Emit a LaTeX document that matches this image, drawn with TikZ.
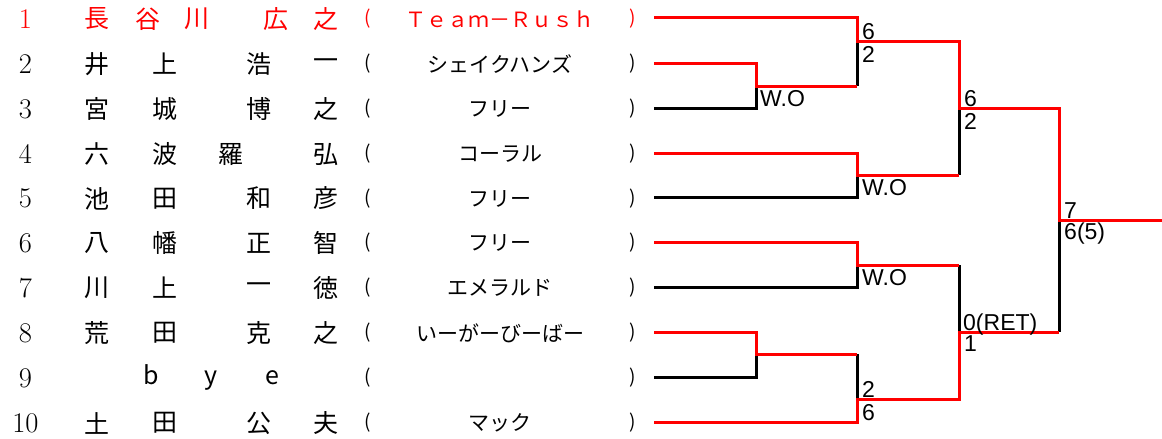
\documentclass[tikz,border=0pt]{standalone}
\usepackage{fontspec}
\newfontfamily\jp{Noto Sans CJK JP}
\newfontfamily\lab{Liberation Sans}
\begin{document}
\begin{tikzpicture}[x=1pt,y=-1pt,
  num/.style={font=\fontsize{28.5}{30}\selectfont, inner sep=0pt},
  nm/.style={font=\jp\fontsize{25}{28}\selectfont, inner sep=0pt},
  lat/.style={font=\jp\fontsize{25}{28}\selectfont, inner sep=0pt, anchor=base},
  aff/.style={font=\jp\fontsize{21}{24}\selectfont, inner sep=0pt},
  par/.style={font=\jp\fontsize{19}{22}\selectfont, inner sep=0pt},
  lblup/.style={font=\lab\fontsize{23}{26}\selectfont, inner sep=0pt, anchor=base west},
  lbldn/.style={font=\lab\fontsize{23}{26}\selectfont, inner sep=0pt, anchor=north west},
  win/.style={draw=red, line width=3pt, line join=miter},
  lose/.style={draw=black, line width=3pt, line join=miter}]
\useasboundingbox (0,0) rectangle (1162,439);

% ---------- row texts ----------
% row 1 (red)
\begin{scope}[red]
\node[num] (n1) at (25.5,19) {1};
\node[nm] (a1) at (97,19) {長};
\node[nm] (b1) at (148,19) {谷};
\node[nm] (c1) at (197,19) {川};
\node[nm] (d1) at (276,19) {広};
\node[nm] (e1) at (326,19) {之};
\node[par] (l1) at (368,19) {(};
\node[aff] (t1) at (500,19) {Ｔｅａｍ－Ｒｕｓｈ};
\node[par] (r1) at (633,19) {)};
\end{scope}
% row 2
\node[num] (n2) at (25.5,64) {2};
\node[nm] (a2) at (97,64) {井};
\node[nm] (b2) at (165,64) {上};
\node[nm] (c2) at (259,64) {浩};
\node[nm] (d2) at (326,64) {一};
\node[par] (l2) at (368,64) {(};
\node[aff] (t2) at (500,64) {シェイクハンズ};
\node[par] (r2) at (633,64) {)};
% row 3
\node[num] (n3) at (25.5,109) {3};
\node[nm] (a3) at (97,109) {宮};
\node[nm] (b3) at (165,109) {城};
\node[nm] (c3) at (259,109) {博};
\node[nm] (d3) at (326,109) {之};
\node[par] (l3) at (368,109) {(};
\node[aff] (t3) at (500,109) {フリー};
\node[par] (r3) at (633,109) {)};
% row 4
\node[num] (n4) at (25.5,154) {4};
\node[nm] (a4) at (97,154) {六};
\node[nm] (b4) at (165,154) {波};
\node[nm] (c4) at (231,154) {羅};
\node[nm] (d4) at (326,154) {弘};
\node[par] (l4) at (368,154) {(};
\node[aff] (t4) at (500,154) {コーラル};
\node[par] (r4) at (633,154) {)};
% row 5
\node[num] (n5) at (25.5,198.5) {5};
\node[nm] (a5) at (97,198.5) {池};
\node[nm] (b5) at (165,198.5) {田};
\node[nm] (c5) at (259,198.5) {和};
\node[nm] (d5) at (326,198.5) {彦};
\node[par] (l5) at (368,198.5) {(};
\node[aff] (t5) at (500,198.5) {フリー};
\node[par] (r5) at (633,198.5) {)};
% row 6
\node[num] (n6) at (25.5,243) {6};
\node[nm] (a6) at (97,243) {八};
\node[nm] (b6) at (165,243) {幡};
\node[nm] (c6) at (259,243) {正};
\node[nm] (d6) at (326,243) {智};
\node[par] (l6) at (368,243) {(};
\node[aff] (t6) at (500,243) {フリー};
\node[par] (r6) at (633,243) {)};
% row 7
\node[num] (n7) at (25.5,288) {7};
\node[nm] (a7) at (97,288) {川};
\node[nm] (b7) at (165,288) {上};
\node[nm] (c7) at (259,288) {一};
\node[nm] (d7) at (326,288) {徳};
\node[par] (l7) at (368,288) {(};
\node[aff] (t7) at (500,288) {エメラルド};
\node[par] (r7) at (633,288) {)};
% row 8
\node[num] (n8) at (25.5,333) {8};
\node[nm] (a8) at (97,333) {荒};
\node[nm] (b8) at (165,333) {田};
\node[nm] (c8) at (259,333) {克};
\node[nm] (d8) at (326,333) {之};
\node[par] (l8) at (368,333) {(};
\node[aff] (t8) at (500,333) {いーがーびーばー};
\node[par] (r8) at (633,333) {)};
% row 9
\node[num] (n9) at (25.5,378) {9};
\node[lat] (a9) at (151,384) {b};
\node[lat] (b9) at (211,384) {y};
\node[lat] (c9) at (272,384) {e};
\node[par] (l9) at (368,378) {(};
\node[par] (r9) at (633,378) {)};
% row 10
\node[num] (n10) at (25.5,423) {10};
\node[nm] (a10) at (97,423) {土};
\node[nm] (b10) at (165,423) {田};
\node[nm] (c10) at (259,423) {公};
\node[nm] (d10) at (326,423) {夫};
\node[par] (l10) at (368,423) {(};
\node[aff] (t10) at (500,423) {マック};
\node[par] (r10) at (633,423) {)};

% ---------- bracket coordinates ----------
\coordinate (s1) at (654,17.5);
\coordinate (s2) at (654,63);
\coordinate (s3) at (654,108);
\coordinate (s4) at (654,153);
\coordinate (s5) at (654,197.5);
\coordinate (s6) at (654,242);
\coordinate (s7) at (654,287);
\coordinate (s8) at (654,332);
\coordinate (s9) at (654,377);
\coordinate (s10) at (654,422);
\coordinate (mA) at (756,86);    % 2 v 3
\coordinate (mB) at (857,41);    % 1 v A
\coordinate (mC) at (857,175);   % 4 v 5
\coordinate (mD) at (959,108);   % B v C
\coordinate (mE) at (857,265);   % 6 v 7
\coordinate (mF) at (756,354);   % 8 v 9
\coordinate (mG) at (857,399);   % F v 10
\coordinate (mH) at (959,332);   % E v G
\coordinate (mI) at (1059,220);  % final
\coordinate (champ) at (1162,220);

% ---------- losers (black) ----------
\path[lose] (s3) -| (mA);
\path[lose] (mA -| mB) -- (mB);
\path[lose] (s5) -| (mC);
\path[lose] (mC -| mD) -- (mD);
\path[lose] (s7) -| (mE);
\path[lose] (s9) -| (mF);
\path[lose] (mF -| mG) -- (mG);
\path[lose] (mE -| mH) -- (mH);
\path[lose] (mH -| mI) -- (mI);

% ---------- winners (red) ----------
\path[win] (s2) -| (mA) -- (mA -| mB);
\path[win] (s1) -| (mB) -- (mB -| mD) |- (mD) -- (mD -| mI) |- (mI) -- (champ);
\path[win] (s4) -| (mC) -- (mC -| mD);
\path[win] (s6) -| (mE) -- (mE -| mH);
\path[win] (s8) -| (mF) -- (mF -| mG);
\path[win] (s10) -| (mG) -- (mG -| mH) |- (mH) -- (mH -| mI);

% ---------- scores ----------
\node[lbldn] (wA) at ([xshift=4pt,yshift=-4pt]mA) {W.O};
\node[lblup] (uB) at ([xshift=5pt,yshift=2pt]mB) {6};
\node[lbldn] (dB) at ([xshift=5pt,yshift=-5pt]mB) {2};
\node[lbldn] (wC) at ([xshift=5pt,yshift=-4pt]mC) {W.O};
\node[lblup] (uD) at ([xshift=5pt,yshift=2pt]mD) {6};
\node[lbldn] (dD) at ([xshift=5pt,yshift=-5pt]mD) {2};
\node[lbldn] (wE) at ([xshift=5pt,yshift=-4pt]mE) {W.O};
\node[lblup] (uG) at ([xshift=5pt,yshift=2pt]mG) {2};
\node[lbldn] (dG) at ([xshift=5pt,yshift=-5pt]mG) {6};
\node[lblup] (uH) at ([xshift=4pt,yshift=2pt]mH) {0(RET)};
\node[lbldn] (dH) at ([xshift=5pt,yshift=-3.5pt]mH) {1};
\node[lblup] (uI) at ([xshift=5pt,yshift=1.5pt]mI) {7};
\node[lbldn] (dI) at ([xshift=5pt,yshift=-3pt]mI) {6(5)};
\end{tikzpicture}
\end{document}
